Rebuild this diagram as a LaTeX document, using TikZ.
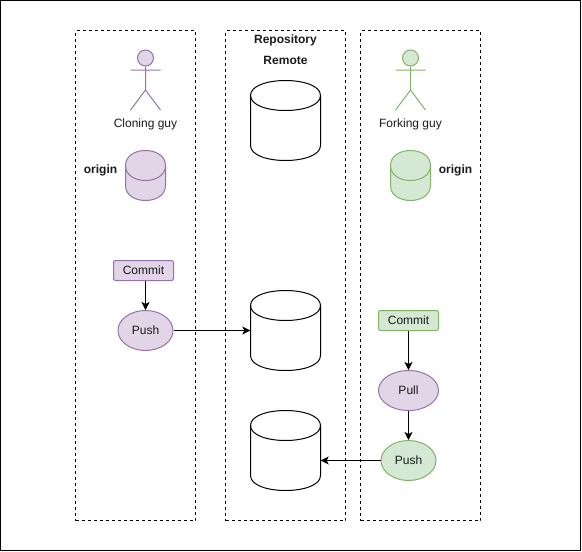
\documentclass[tikz,border=0pt]{standalone}
\usepackage{fontspec}
\setmainfont{Liberation Sans}
\usetikzlibrary{arrows.meta,shapes.geometric}
\definecolor{purplefill}{HTML}{E1D5E7}
\definecolor{purpleline}{HTML}{9673A6}
\definecolor{greenfill}{HTML}{D5E8D4}
\definecolor{greenline}{HTML}{82B366}
\definecolor{ink}{HTML}{1A1A1A}
\tikzset{
  lane/.style={draw=black,dashed,dash pattern=on 3pt off 3pt,line width=1pt,minimum width=120pt,minimum height=490pt,inner sep=0pt},
  purple/.style={draw=purpleline,fill=purplefill,line width=1pt},
  green/.style={draw=greenline,fill=greenfill,line width=1pt},
  plain/.style={draw=black,fill=white,line width=1pt},
  lbl/.style={text=ink,inner sep=0pt,font=\fontsize{12}{14}\selectfont},
  boldlbl/.style={lbl,font=\fontsize{12}{14}\selectfont\bfseries},
  commitbox/.style={rectangle,rounded corners=2pt,minimum width=60pt,minimum height=20pt,inner sep=0pt,text=ink,font=\fontsize{12}{14}\selectfont},
  action/.style={ellipse,inner sep=0pt,text=ink,font=\fontsize{12}{14}\selectfont},
  link/.style={-{Stealth[length=8pt,width=8pt,inset=2pt]},line width=1pt,black},
  cylslot/.style={rectangle,inner sep=0pt,draw=none},
}
% #1 name, #2 style, #3 cx, #4 cy, #5 w, #6 h
\newcommand{\cyl}[6]{%
  \node[cylslot,minimum width=#5pt,minimum height=#6pt] (#1) at (#3,#4) {};
  \pgfmathsetmacro{\cxl}{#3-#5/2}
  \pgfmathsetmacro{\cxr}{#3+#5/2}
  \pgfmathsetmacro{\cya}{#4-#6/2+15}
  \pgfmathsetmacro{\cyb}{#4+#6/2-15}
  \pgfmathsetmacro{\cyat}{\cya-20}
  \pgfmathsetmacro{\cyab}{\cya+20}
  \pgfmathsetmacro{\cybb}{\cyb+20}
  \path[#2] (\cxl,\cya)
    .. controls (\cxl,\cyat) and (\cxr,\cyat) .. (\cxr,\cya)
    -- (\cxr,\cyb)
    .. controls (\cxr,\cybb) and (\cxl,\cybb) .. (\cxl,\cyb)
    -- cycle;
  \path[#2,fill=none] (\cxl,\cya)
    .. controls (\cxl,\cyab) and (\cxr,\cyab) .. (\cxr,\cya);
}
% #1 name, #2 style, #3 cx
\newcommand{\stick}[3]{%
  \node[#2,circle,minimum size=16pt,inner sep=0pt] (#1head) at (#3,58) {};
  \coordinate (#1hip) at (#3,90);
  \coordinate (#1la) at (#3-15,70);
  \coordinate (#1ra) at (#3+15,70);
  \coordinate (#1ll) at (#3-15,110);
  \coordinate (#1rl) at (#3+15,110);
  \draw[#2,fill=none] (#1head.south) -- (#1hip) (#1la) -- (#1ra) (#1ll) -- (#1hip) -- (#1rl);
}
\begin{document}
\begin{tikzpicture}[x=1pt,y=-1pt]
\useasboundingbox (0,0) rectangle (582,552);
\node[draw=black,line width=1pt,minimum width=580pt,minimum height=550pt,inner sep=0pt] (frame) at (290.5,275.5) {};
\node[lane] (laneA) at (135.5,275.5) {};
\node[lane] (laneB) at (285.5,275.5) {};
\node[lane] (laneC) at (420.5,275.5) {};

\stick{cg}{purple}{145.5}
\stick{fg}{green}{410.5}
\node[lbl] (cgl) at (145.5,124) {Cloning guy};
\node[lbl] (fgl) at (410.5,124) {Forking guy};
\node[boldlbl] (repo) at (285.5,40) {Repository};
\node[boldlbl] (remote) at (285.5,60) {Remote};
\node[boldlbl] (orgA) at (100.5,170) {origin};
\node[boldlbl] (orgC) at (455.5,170) {origin};

\cyl{rA}{plain}{285.5}{120.5}{70}{80}
\cyl{rB}{plain}{285.5}{330.5}{70}{80}
\cyl{rC}{plain}{285.5}{450.5}{70}{80}
\cyl{oA}{purple}{145.5}{175.5}{40}{50}
\cyl{oC}{green}{410.5}{175.5}{40}{50}

\node[commitbox,purple] (commitA) at (143.5,270.5) {Commit};
\node[action,purple,minimum width=55pt,minimum height=40pt] (pushA) at (145.5,330.5) {Push};
\node[commitbox,green] (commitC) at (408.5,320.5) {Commit};
\node[action,purple,minimum width=60pt,minimum height=40pt] (pull) at (408.5,390.5) {Pull};
\node[action,green,minimum width=55pt,minimum height=40pt] (pushC) at (408.5,460.5) {Push};

\draw[link] (commitA.south -| pushA.north) -- (pushA.north);
\draw[link] (pushA.east) -- (rB.west);
\draw[link] (commitC) -- (pull);
\draw[link] (pull) -- (pushC);
\draw[link] (pushC.west) -- (pushC.west -| rC.east);
\end{tikzpicture}
\end{document}
